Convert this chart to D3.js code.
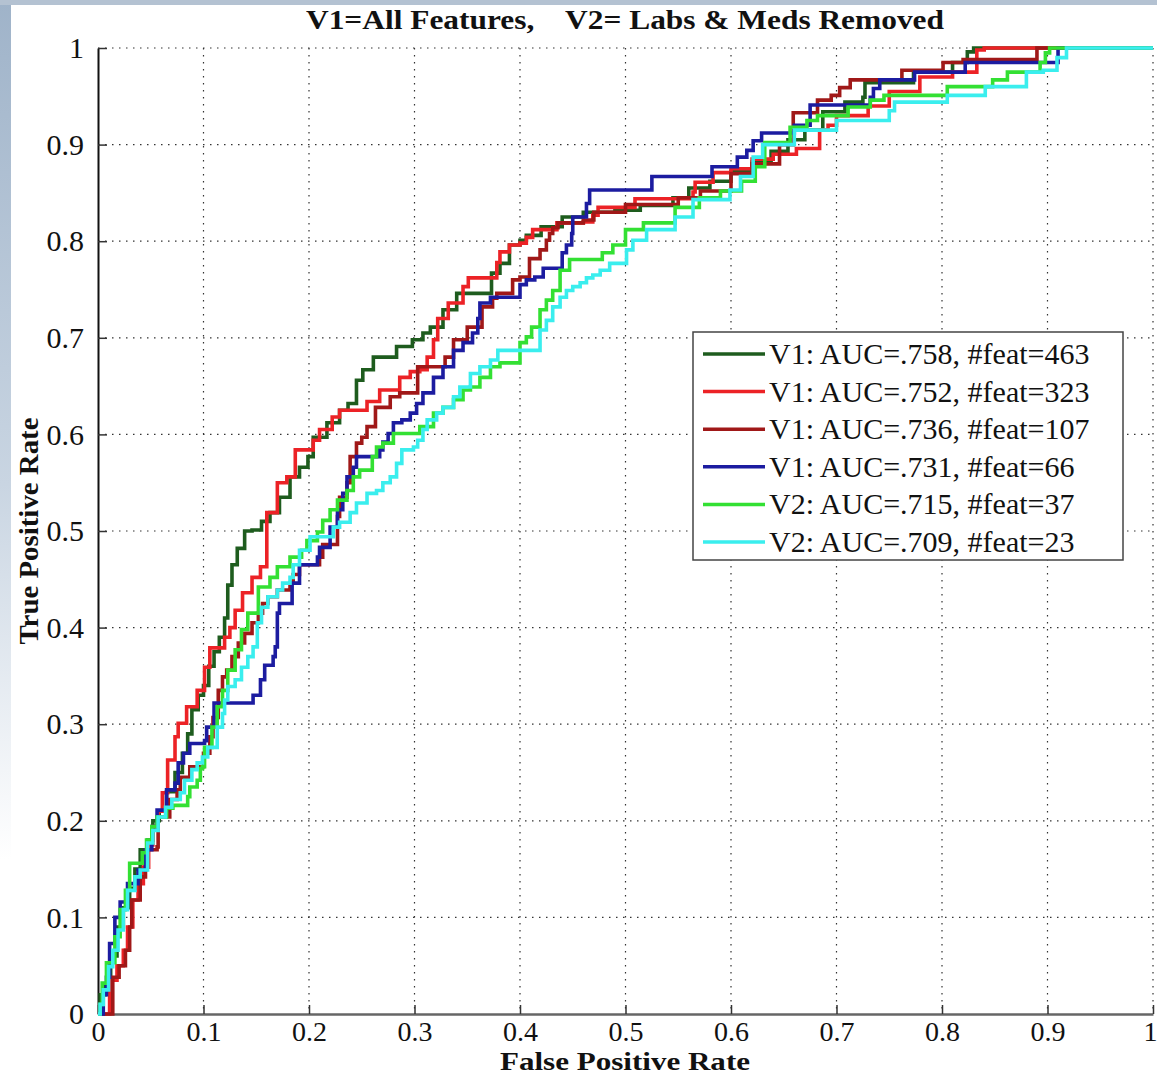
<!DOCTYPE html>
<html>
<head>
<meta charset="utf-8">
<script src="https://cdn.jsdelivr.net/npm/d3@7"></script>
<style>
  body { margin: 0; background: #fff; }
  text { font-family: "Liberation Serif", "DejaVu Serif", serif; fill: #111; }
</style>
</head>
<body>
<svg id="roc"></svg>
<script>
// series names and colours, in legend order
const seriesNames = [
  "V1: AUC=.758, #feat=463",
  "V1: AUC=.752, #feat=323",
  "V1: AUC=.736, #feat=107",
  "V1: AUC=.731, #feat=66",
  "V2: AUC=.715, #feat=37",
  "V2: AUC=.709, #feat=23"
];
const seriesColors = ["#1e5c1e", "#ec2226", "#a01818", "#1c1ca0", "#33e033", "#3aeeee"];

const xTicks = [0, 0.1, 0.2, 0.3, 0.4, 0.5, 0.6, 0.7, 0.8, 0.9, 1];
const yTicks = [0, 0.1, 0.2, 0.3, 0.4, 0.5, 0.6, 0.7, 0.8, 0.9, 1];

// ROC corner points [FPR, TPR]
const rocV1f463 = [[0,0],[0.002,0.02],[0.007,0.03],[0.012,0.06],[0.018,0.09],[0.024,0.11],[0.03,0.13],[0.035,0.15],
  [0.04,0.17],[0.047,0.18],[0.052,0.2],[0.058,0.21],[0.065,0.23],[0.073,0.25],[0.08,0.27],[0.085,0.29],[0.089,0.315],
  [0.095,0.33],[0.1,0.34],[0.105,0.36],[0.11,0.375],[0.115,0.39],[0.12,0.41],[0.123,0.444],[0.127,0.465],[0.132,0.482],
  [0.139,0.5],[0.146,0.501],[0.155,0.51],[0.163,0.519],[0.172,0.535],[0.182,0.556],[0.191,0.566],[0.199,0.577],
  [0.204,0.597],[0.217,0.612],[0.229,0.625],[0.237,0.632],[0.245,0.656],[0.251,0.667],[0.261,0.68],[0.283,0.691],
  [0.298,0.698],[0.308,0.705],[0.315,0.711],[0.327,0.729],[0.34,0.746],[0.373,0.767],[0.381,0.777],[0.39,0.796],
  [0.4,0.801],[0.406,0.806],[0.42,0.815],[0.44,0.825],[0.46,0.83],[0.49,0.832],[0.514,0.837],[0.545,0.845],[0.56,0.855],
  [0.58,0.862],[0.6,0.872],[0.62,0.882],[0.638,0.893],[0.654,0.905],[0.67,0.915],[0.687,0.934],[0.708,0.944],
  [0.725,0.949],[0.727,0.964],[0.773,0.975],[0.81,0.985],[0.824,0.996],[0.83,1],[1,1]];

const rocV1f323 = [[0,0],[0.008,0],[0.011,0.035],[0.018,0.05],[0.024,0.066],[0.028,0.09],[0.033,0.118],[0.038,0.135],
  [0.043,0.152],[0.048,0.175],[0.052,0.194],[0.057,0.21],[0.061,0.229],[0.066,0.263],[0.073,0.287],[0.076,0.301],
  [0.084,0.318],[0.094,0.335],[0.101,0.359],[0.106,0.379],[0.12,0.39],[0.125,0.4],[0.13,0.418],[0.137,0.436],
  [0.146,0.452],[0.154,0.463],[0.16,0.519],[0.17,0.55],[0.179,0.556],[0.187,0.584],[0.204,0.594],[0.21,0.605],
  [0.222,0.618],[0.229,0.625],[0.255,0.634],[0.267,0.646],[0.286,0.659],[0.296,0.665],[0.305,0.667],[0.312,0.68],
  [0.318,0.698],[0.322,0.72],[0.332,0.736],[0.346,0.753],[0.351,0.762],[0.378,0.778],[0.381,0.789],[0.39,0.796],
  [0.4,0.798],[0.406,0.804],[0.412,0.812],[0.435,0.819],[0.46,0.82],[0.469,0.827],[0.474,0.835],[0.509,0.844],
  [0.564,0.851],[0.566,0.861],[0.583,0.871],[0.6,0.875],[0.62,0.885],[0.64,0.89],[0.662,0.896],[0.684,0.915],
  [0.692,0.92],[0.7,0.93],[0.73,0.94],[0.75,0.955],[0.779,0.97],[0.81,0.975],[0.833,0.998],[0.84,1],[1,1]];

const rocV1f107 = [[0,0],[0.01,0],[0.014,0.038],[0.02,0.05],[0.026,0.066],[0.03,0.09],[0.032,0.118],[0.04,0.142],
  [0.045,0.17],[0.056,0.173],[0.057,0.204],[0.068,0.222],[0.075,0.232],[0.078,0.245],[0.087,0.256],[0.1,0.27],
  [0.106,0.287],[0.109,0.307],[0.114,0.335],[0.118,0.349],[0.122,0.356],[0.127,0.37],[0.133,0.384],[0.139,0.394],
  [0.146,0.405],[0.152,0.415],[0.156,0.425],[0.161,0.432],[0.17,0.439],[0.182,0.446],[0.185,0.455],[0.191,0.465],
  [0.21,0.473],[0.213,0.486],[0.227,0.515],[0.229,0.535],[0.236,0.55],[0.239,0.577],[0.245,0.591],[0.25,0.597],
  [0.255,0.608],[0.263,0.628],[0.277,0.639],[0.286,0.643],[0.303,0.67],[0.329,0.68],[0.337,0.698],[0.35,0.711],
  [0.364,0.732],[0.374,0.741],[0.378,0.746],[0.393,0.76],[0.4,0.763],[0.409,0.782],[0.419,0.791],[0.425,0.801],
  [0.428,0.808],[0.431,0.814],[0.436,0.819],[0.46,0.822],[0.47,0.83],[0.5,0.838],[0.55,0.845],[0.571,0.852],
  [0.6,0.87],[0.62,0.88],[0.646,0.9],[0.659,0.933],[0.682,0.946],[0.695,0.951],[0.703,0.959],[0.713,0.967],
  [0.762,0.977],[0.801,0.985],[0.82,0.988],[0.89,1],[1,1]];

const rocV1f66 = [[0,0],[0.005,0.02],[0.008,0.038],[0.011,0.073],[0.016,0.1],[0.021,0.116],[0.028,0.135],[0.038,0.149],
  [0.045,0.17],[0.051,0.194],[0.056,0.211],[0.065,0.232],[0.073,0.239],[0.076,0.26],[0.081,0.27],[0.087,0.28],
  [0.101,0.283],[0.103,0.297],[0.11,0.322],[0.147,0.33],[0.154,0.346],[0.158,0.361],[0.166,0.37],[0.168,0.38],
  [0.17,0.415],[0.172,0.425],[0.184,0.446],[0.191,0.465],[0.208,0.473],[0.21,0.483],[0.22,0.504],[0.227,0.522],
  [0.232,0.539],[0.236,0.556],[0.242,0.566],[0.245,0.577],[0.267,0.584],[0.27,0.592],[0.275,0.601],[0.28,0.612],
  [0.288,0.615],[0.296,0.622],[0.302,0.632],[0.308,0.643],[0.318,0.659],[0.327,0.67],[0.337,0.687],[0.346,0.695],
  [0.355,0.705],[0.36,0.72],[0.362,0.736],[0.372,0.742],[0.4,0.755],[0.406,0.76],[0.414,0.763],[0.422,0.772],
  [0.44,0.788],[0.444,0.796],[0.449,0.808],[0.45,0.825],[0.463,0.839],[0.466,0.853],[0.525,0.867],[0.582,0.877],
  [0.606,0.887],[0.615,0.894],[0.621,0.904],[0.629,0.912],[0.66,0.92],[0.675,0.941],[0.732,0.949],[0.735,0.958],
  [0.741,0.967],[0.774,0.975],[0.822,0.985],[0.91,1],[1,1]];

const rocV2f37 = [[0,0],[0.002,0.01],[0.004,0.032],[0.008,0.053],[0.016,0.08],[0.021,0.108],[0.026,0.128],[0.03,0.156],
  [0.042,0.167],[0.046,0.18],[0.051,0.194],[0.056,0.204],[0.065,0.213],[0.071,0.216],[0.085,0.225],[0.087,0.235],
  [0.094,0.242],[0.097,0.254],[0.099,0.256],[0.101,0.276],[0.108,0.297],[0.113,0.318],[0.118,0.335],[0.123,0.356],
  [0.13,0.377],[0.136,0.398],[0.142,0.415],[0.152,0.442],[0.163,0.452],[0.17,0.463],[0.182,0.473],[0.193,0.48],
  [0.198,0.49],[0.208,0.499],[0.213,0.511],[0.22,0.522],[0.227,0.532],[0.236,0.542],[0.242,0.556],[0.248,0.563],
  [0.26,0.577],[0.264,0.587],[0.27,0.591],[0.28,0.601],[0.305,0.608],[0.318,0.622],[0.327,0.628],[0.337,0.636],
  [0.346,0.646],[0.353,0.649],[0.362,0.659],[0.372,0.67],[0.381,0.674],[0.4,0.695],[0.406,0.701],[0.411,0.711],
  [0.419,0.729],[0.425,0.739],[0.431,0.749],[0.438,0.77],[0.447,0.781],[0.478,0.788],[0.488,0.796],[0.5,0.812],
  [0.517,0.819],[0.547,0.835],[0.57,0.845],[0.59,0.852],[0.61,0.862],[0.623,0.877],[0.632,0.902],[0.656,0.918],
  [0.672,0.925],[0.682,0.93],[0.711,0.939],[0.732,0.946],[0.745,0.951],[0.805,0.96],[0.848,0.967],[0.862,0.975],
  [0.893,0.985],[0.898,0.995],[0.902,1],[1,1]];

const rocV2f23 = [[0,0],[0.002,0.01],[0.005,0.025],[0.01,0.049],[0.014,0.066],[0.019,0.087],[0.024,0.108],[0.028,0.128],
  [0.035,0.142],[0.04,0.149],[0.047,0.177],[0.052,0.19],[0.057,0.204],[0.064,0.214],[0.07,0.222],[0.078,0.229],
  [0.082,0.242],[0.089,0.253],[0.094,0.26],[0.099,0.266],[0.104,0.276],[0.113,0.297],[0.118,0.311],[0.12,0.325],
  [0.123,0.339],[0.13,0.346],[0.136,0.359],[0.142,0.37],[0.147,0.38],[0.151,0.405],[0.155,0.421],[0.161,0.432],
  [0.17,0.439],[0.175,0.446],[0.182,0.452],[0.185,0.465],[0.191,0.48],[0.201,0.494],[0.223,0.504],[0.229,0.509],
  [0.239,0.519],[0.245,0.529],[0.255,0.539],[0.264,0.542],[0.27,0.55],[0.277,0.556],[0.283,0.57],[0.288,0.584],
  [0.299,0.587],[0.303,0.594],[0.308,0.605],[0.312,0.615],[0.321,0.622],[0.327,0.628],[0.337,0.639],[0.343,0.649],
  [0.353,0.663],[0.362,0.67],[0.372,0.677],[0.379,0.687],[0.419,0.708],[0.425,0.718],[0.431,0.732],[0.438,0.742],
  [0.444,0.749],[0.45,0.753],[0.457,0.757],[0.463,0.762],[0.469,0.765],[0.476,0.77],[0.485,0.777],[0.501,0.791],
  [0.507,0.801],[0.52,0.812],[0.547,0.825],[0.564,0.843],[0.599,0.853],[0.609,0.867],[0.621,0.887],[0.63,0.9],
  [0.66,0.915],[0.7,0.925],[0.75,0.935],[0.755,0.944],[0.805,0.951],[0.841,0.96],[0.88,0.975],[0.896,0.977],
  [0.909,0.99],[0.918,1],[1,1]];

const rocCurves = [rocV1f463, rocV1f323, rocV1f107, rocV1f66, rocV2f37, rocV2f23];

const width = 1157, height = 1075;
const plotLeft = 98, plotRight = 1153, plotTop = 48, plotBottom = 1014;

const svg = d3.select("#roc").attr("width", width).attr("height", height);

// slide background peeking in at the top and left edges
const defs = svg.append("defs");
const edgeGrad = defs.append("linearGradient").attr("id", "edgeGrad")
  .attr("x1", 0).attr("y1", 0).attr("x2", 0).attr("y2", 1);
edgeGrad.append("stop").attr("offset", "0%").attr("stop-color", "#9fb3c9");
edgeGrad.append("stop").attr("offset", "45%").attr("stop-color", "#c9d5e2");
edgeGrad.append("stop").attr("offset", "80%").attr("stop-color", "#ffffff");
svg.append("rect").attr("x", 0).attr("y", 0).attr("width", width).attr("height", height).attr("fill", "#fff");
svg.append("rect").attr("x", 0).attr("y", 0).attr("width", 11).attr("height", height).attr("fill", "url(#edgeGrad)");
svg.append("rect").attr("x", 0).attr("y", 0).attr("width", width).attr("height", 5).attr("fill", "#b4c2d2");

const x = d3.scaleLinear().domain([0, 1]).range([plotLeft, plotRight]);
const y = d3.scaleLinear().domain([0, 1]).range([plotBottom, plotTop]);

// dotted grid
svg.append("g").selectAll("line").data(xTicks.slice(1)).join("line")
  .attr("x1", d => x(d)).attr("x2", d => x(d)).attr("y1", plotTop).attr("y2", plotBottom)
  .attr("stroke", "#333").attr("stroke-width", 1.2).attr("stroke-dasharray", "1.5,5.5");
svg.append("g").selectAll("line").data(yTicks.slice(1)).join("line")
  .attr("x1", plotLeft).attr("x2", plotRight).attr("y1", d => y(d)).attr("y2", d => y(d))
  .attr("stroke", "#333").attr("stroke-width", 1.2).attr("stroke-dasharray", "1.5,5.5");

// axes with inward ticks
const xAxis = svg.append("g").attr("transform", `translate(0,${plotBottom})`)
  .call(d3.axisBottom(x).tickValues(xTicks).tickSizeInner(-9).tickSizeOuter(0).tickPadding(7)
    .tickFormat(d => d3.format("")(d)));
xAxis.select(".domain").attr("stroke", "#666").attr("stroke-width", 2.5);
xAxis.selectAll(".tick line").attr("stroke", "#333").attr("stroke-width", 1.5);
xAxis.selectAll(".tick text").attr("font-size", 28).attr("font-family", "Liberation Serif").attr("fill", "#222")
  .attr("dx", d => d === 1 ? -3 : 0);

const yAxis = svg.append("g").attr("transform", `translate(${plotLeft},0)`)
  .call(d3.axisLeft(y).tickValues(yTicks).tickSizeInner(-9).tickSizeOuter(0).tickPadding(14)
    .tickFormat(d => d3.format("")(d)));
yAxis.select(".domain").attr("stroke", "#111").attr("stroke-width", 2);
yAxis.selectAll(".tick line").attr("stroke", "#333").attr("stroke-width", 1.5);
yAxis.selectAll(".tick text").attr("font-size", 30).attr("font-family", "Liberation Serif").attr("fill", "#222");

// ROC curves as staircases
const line = d3.line().x(d => x(d[0])).y(d => y(d[1])).curve(d3.curveStepAfter);
svg.append("g").selectAll("path").data(rocCurves).join("path")
  .attr("d", line)
  .attr("fill", "none")
  .attr("stroke", (d, i) => seriesColors[i])
  .attr("stroke-width", 3.6)
  .attr("stroke-linejoin", "miter");

// legend
const legend = svg.append("g");
legend.append("rect").attr("x", 693).attr("y", 332).attr("width", 430).attr("height", 228)
  .attr("fill", "#fff").attr("stroke", "#444").attr("stroke-width", 1.5);
const rows = legend.selectAll("g.row").data(seriesNames).join("g")
  .attr("class", "row")
  .attr("transform", (d, i) => `translate(0,${354 + i * 37.6})`);
rows.append("line").attr("x1", 703).attr("x2", 765).attr("y1", 0).attr("y2", 0)
  .attr("stroke", (d, i) => seriesColors[i]).attr("stroke-width", 3.5);
rows.append("text").attr("x", 769).attr("y", 10).attr("font-size", 30).text(d => d);

// title and axis labels
svg.append("text").attr("x", 625).attr("y", 29).attr("text-anchor", "middle")
  .attr("font-size", 27).attr("font-weight", "bold").style("white-space", "pre")
  .attr("textLength", 638).attr("lengthAdjust", "spacingAndGlyphs")
  .text("V1=All Features,    V2= Labs & Meds Removed");
svg.append("text").attr("x", 625).attr("y", 1070).attr("text-anchor", "middle")
  .attr("font-size", 26).attr("font-weight", "bold")
  .attr("textLength", 250).attr("lengthAdjust", "spacingAndGlyphs")
  .text("False Positive Rate");
svg.append("text").attr("transform", "translate(38,531) rotate(-90)").attr("text-anchor", "middle")
  .attr("font-size", 27).attr("font-weight", "bold")
  .attr("textLength", 227).attr("lengthAdjust", "spacingAndGlyphs")
  .text("True Positive Rate");
</script>
</body>
</html>
